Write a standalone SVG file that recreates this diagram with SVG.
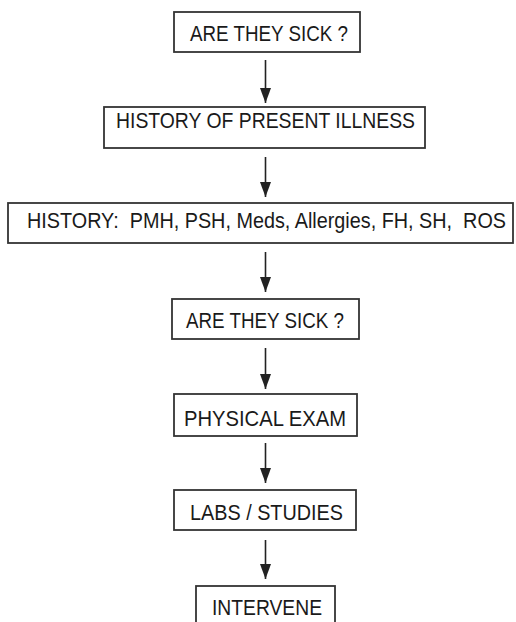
<svg xmlns="http://www.w3.org/2000/svg" width="516" height="622" viewBox="0 0 516 622">
<style>
.box{fill:#fff;stroke:#333;stroke-width:1.8}
.lbl{font-family:"Liberation Sans","DejaVu Sans",sans-serif;font-size:21.5px;fill:#1a1a1a}
.conn{stroke:#222;stroke-width:1.6;fill:none;marker-end:url(#ah)}
</style>
<defs>
<marker id="ah" markerUnits="userSpaceOnUse" markerWidth="16" markerHeight="12" viewBox="0 0 16 12" refX="15" refY="6" orient="auto">
<path d="M0,0.5 L15,6 L0,11.5 Z" fill="#222"/>
</marker>
</defs>
<rect width="516" height="622" fill="#fff"/>
<g id="connectors">
<line class="conn" x1="265.5" y1="60" x2="265.5" y2="103"/>
<line class="conn" x1="265.5" y1="157" x2="265.5" y2="197"/>
<line class="conn" x1="265.5" y1="252" x2="265.5" y2="292"/>
<line class="conn" x1="265.5" y1="348" x2="265.5" y2="389"/>
<line class="conn" x1="265.5" y1="443" x2="265.5" y2="483"/>
<line class="conn" x1="265.5" y1="540" x2="265.5" y2="579"/>
</g>
<g id="n1">
<rect class="box" x="174" y="12" width="186" height="40"/>
<text class="lbl" x="190" y="40.5" textLength="158" lengthAdjust="spacingAndGlyphs">ARE THEY SICK ?</text>
</g>
<g id="n2">
<rect class="box" x="104" y="107" width="321" height="41"/>
<text class="lbl" x="116" y="128" textLength="299" lengthAdjust="spacingAndGlyphs">HISTORY OF PRESENT ILLNESS</text>
</g>
<g id="n3">
<rect class="box" x="8" y="203" width="505" height="40"/>
<text class="lbl" x="27" y="228" textLength="479" lengthAdjust="spacingAndGlyphs" xml:space="preserve">HISTORY:  PMH, PSH, Meds, Allergies, FH, SH,  ROS</text>
</g>
<g id="n4">
<rect class="box" x="172" y="299" width="187" height="40"/>
<text class="lbl" x="186" y="327.5" textLength="158" lengthAdjust="spacingAndGlyphs">ARE THEY SICK ?</text>
</g>
<g id="n5">
<rect class="box" x="174" y="394" width="183" height="42"/>
<text class="lbl" x="184" y="426" textLength="162" lengthAdjust="spacingAndGlyphs">PHYSICAL EXAM</text>
</g>
<g id="n6">
<rect class="box" x="174" y="490" width="182" height="40"/>
<text class="lbl" x="190" y="520" textLength="153" lengthAdjust="spacingAndGlyphs">LABS / STUDIES</text>
</g>
<g id="n7">
<rect class="box" x="196" y="586" width="139" height="44"/>
<text class="lbl" x="212" y="614.5" textLength="110" lengthAdjust="spacingAndGlyphs">INTERVENE</text>
</g>
</svg>
